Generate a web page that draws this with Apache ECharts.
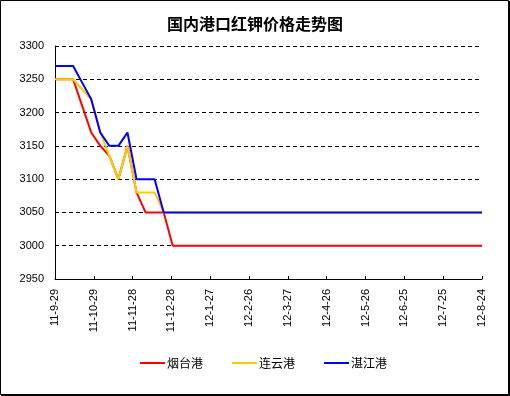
<!DOCTYPE html>
<html>
<head>
<meta charset="utf-8">
<script src="https://cdn.jsdelivr.net/npm/echarts@6/dist/echarts.min.js"></script>
<style>
html,body{margin:0;padding:0;background:#fff;}
#c{width:510px;height:396px;}
</style>
</head>
<body>
<div id="c"></div>
<script>
// Data
const seriesNames = ['烟台港', '连云港', '湛江港'];
const dates = ['2011-09-29','2011-10-06','2011-10-13','2011-10-20','2011-10-27','2011-11-03','2011-11-10','2011-11-17','2011-11-24','2011-12-01','2011-12-08','2011-12-15','2011-12-22','2011-12-29','2012-08-24'];
const yantai    = [3250,3250,3250,3210,3170,3150,3135,3100,3150,3080,3050,3050,3050,3000,3000];
const lianyun   = [3250,3250,3250,3235,3220,3170,3135,3100,3150,3080,3080,3080,3050,3050,3050];
const zhanjiang = [3270,3270,3270,3245,3220,3170,3150,3150,3170,3100,3100,3100,3050,3050,3050];
const axisStartDate = '2011-09-29';
const axisEndDate = '2012-08-24';
const tickDays = 30;
const yMin = 2950, yMax = 3300, yStep = 50;

const DAY = 86400000;
function dayNum(s){ const p = s.split('-').map(Number); return Date.UTC(p[0], p[1]-1, p[2]) / DAY; }
const base = dayNum(axisStartDate);
const xs = dates.map(d => dayNum(d) - base);
function pairs(vals){ return vals.map((v,i) => [xs[i], v]); }
function fmt(v){
  const d = new Date((base + v) * DAY);
  return (d.getUTCFullYear() % 100) + '-' + (d.getUTCMonth()+1) + '-' + d.getUTCDate();
}

const colors = ['#FF0000', '#FFCC00', '#0000FF'];
const font = '"Liberation Sans", "Noto Sans CJK SC", sans-serif';
const chart = echarts.init(document.getElementById('c'), null, {renderer:'canvas'});
chart.setOption({
  animation: false,
  backgroundColor: '#fff',
  title: {
    text: '国内港口红钾价格走势图',
    left: 'center', top: 11,
    textStyle: {fontFamily: '"Noto Sans CJK SC", sans-serif', fontSize: 16, fontWeight: 'bold', color: '#000'}
  },
  legend: {
    data: seriesNames,
    left: 140, top: 357, padding: 0,
    icon: 'rect', itemWidth: 25, itemHeight: 2, itemGap: 29,
    textStyle: {fontFamily: '"Noto Sans CJK SC", sans-serif', fontSize: 12, color: '#000', padding: [0,0,0,-3]}
  },
  grid: {left: 55, right: 28, top: 46, bottom: 117, containLabel: false},
  xAxis: {
    type: 'value',
    min: 0, max: dayNum(axisEndDate) - base, interval: tickDays,
    axisLine: {lineStyle: {color: '#000', width: 1}},
    axisTick: {show: true, inside: true, length: 3, lineStyle: {color: '#000'}},
    splitLine: {show: false},
    axisLabel: {
      rotate: 90, margin: 10, color: '#000',
      fontFamily: font, fontSize: 11,
      formatter: fmt, showMinLabel: true, showMaxLabel: true
    }
  },
  yAxis: {
    type: 'value',
    min: yMin, max: yMax, interval: yStep,
    axisLine: {show: true, lineStyle: {color: '#000', width: 1}},
    axisTick: {show: false},
    splitLine: {show: true, lineStyle: {color: '#000', type: [4,3], width: 1}},
    axisLabel: {color: '#000', fontFamily: font, fontSize: 11, margin: 11, formatter: v => String(v)}
  },
  series: [
    {name: seriesNames[0], type: 'line', data: pairs(yantai), symbol: 'none', lineStyle: {color: colors[0], width: 2}, itemStyle: {color: colors[0]}},
    {name: seriesNames[1], type: 'line', data: pairs(lianyun), symbol: 'none', lineStyle: {color: colors[1], width: 2}, itemStyle: {color: colors[1]}},
    {name: seriesNames[2], type: 'line', data: pairs(zhanjiang), symbol: 'none', lineStyle: {color: colors[2], width: 2}, itemStyle: {color: colors[2]}}
  ],
  graphic: [
    {type: 'rect', shape: {x: 0.5, y: 0.5, width: 508, height: 394}, style: {fill: null, stroke: '#000', lineWidth: 1}, silent: true},
    {type: 'line', shape: {x1: 509.5, y1: 1, x2: 509.5, y2: 396}, style: {stroke: '#000', lineWidth: 1}, silent: true},
    {type: 'line', shape: {x1: 1, y1: 395.5, x2: 510, y2: 395.5}, style: {stroke: '#000', lineWidth: 1}, silent: true}
  ]
});
</script>
</body>
</html>
